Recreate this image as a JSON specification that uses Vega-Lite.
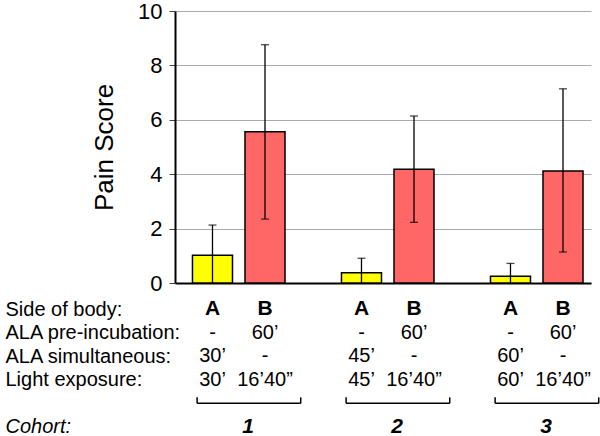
{
  "$schema": "https://vega.github.io/schema/vega-lite/v6.json",
  "padding": {"left": 5, "top": 0, "right": 0, "bottom": 0},
  "background": "white",
  "config": {"view": {"stroke": null}, "font": "Liberation Sans", "concat": {"spacing": 4}},
  "datasets": {
    "bars": [
      {"cohort": "1", "side": "A", "score": 1.02, "lo": 0, "hi": 2.13},
      {"cohort": "1", "side": "B", "score": 5.56, "lo": 2.35, "hi": 8.76},
      {"cohort": "2", "side": "A", "score": 0.38, "lo": 0, "hi": 0.91},
      {"cohort": "2", "side": "B", "score": 4.18, "lo": 2.23, "hi": 6.14},
      {"cohort": "3", "side": "A", "score": 0.25, "lo": 0, "hi": 0.72},
      {"cohort": "3", "side": "B", "score": 4.12, "lo": 1.14, "hi": 7.14}
    ],
    "table": [
      {"row": "Side of body:", "cohort": "1", "side": "A", "label": "A"},
      {"row": "Side of body:", "cohort": "1", "side": "B", "label": "B"},
      {"row": "Side of body:", "cohort": "2", "side": "A", "label": "A"},
      {"row": "Side of body:", "cohort": "2", "side": "B", "label": "B"},
      {"row": "Side of body:", "cohort": "3", "side": "A", "label": "A"},
      {"row": "Side of body:", "cohort": "3", "side": "B", "label": "B"},
      {"row": "ALA pre-incubation:", "cohort": "1", "side": "A", "label": "-"},
      {"row": "ALA pre-incubation:", "cohort": "1", "side": "B", "label": "60’"},
      {"row": "ALA pre-incubation:", "cohort": "2", "side": "A", "label": "-"},
      {"row": "ALA pre-incubation:", "cohort": "2", "side": "B", "label": "60’"},
      {"row": "ALA pre-incubation:", "cohort": "3", "side": "A", "label": "-"},
      {"row": "ALA pre-incubation:", "cohort": "3", "side": "B", "label": "60’"},
      {"row": "ALA simultaneous:", "cohort": "1", "side": "A", "label": "30’"},
      {"row": "ALA simultaneous:", "cohort": "1", "side": "B", "label": "-"},
      {"row": "ALA simultaneous:", "cohort": "2", "side": "A", "label": "45’"},
      {"row": "ALA simultaneous:", "cohort": "2", "side": "B", "label": "-"},
      {"row": "ALA simultaneous:", "cohort": "3", "side": "A", "label": "60’"},
      {"row": "ALA simultaneous:", "cohort": "3", "side": "B", "label": "-"},
      {"row": "Light exposure:", "cohort": "1", "side": "A", "label": "30’"},
      {"row": "Light exposure:", "cohort": "1", "side": "B", "label": "16’40”"},
      {"row": "Light exposure:", "cohort": "2", "side": "A", "label": "45’"},
      {"row": "Light exposure:", "cohort": "2", "side": "B", "label": "16’40”"},
      {"row": "Light exposure:", "cohort": "3", "side": "A", "label": "60’"},
      {"row": "Light exposure:", "cohort": "3", "side": "B", "label": "16’40”"}
    ],
    "groups": [
      {"cohort": "1", "row": "Cohort:", "bracket": " "},
      {"cohort": "2", "row": "Cohort:", "bracket": " "},
      {"cohort": "3", "row": "Cohort:", "bracket": " "}
    ]
  },
  "vconcat": [
    {
      "width": 416,
      "height": 272,
      "data": {"name": "bars"},
      "encoding": {
        "x": {
          "field": "cohort", "type": "nominal",
          "scale": {"paddingInner": 0.379, "paddingOuter": 0.0855, "align": 0.686},
          "axis": {"labels": false, "ticks": false, "title": null, "domainColor": "black", "domainWidth": 2}
        },
        "xOffset": {"field": "side", "type": "nominal", "scale": {"paddingInner": 0.238, "paddingOuter": 0}}
      },
      "layer": [
        {
          "mark": {"type": "bar", "stroke": "black", "strokeWidth": 1.5},
          "encoding": {
            "y": {
              "field": "score", "type": "quantitative",
              "scale": {"domain": [0, 10], "nice": false},
              "axis": {
                "title": "Pain Score", "titleFontSize": 26, "titleFontWeight": "normal", "titleColor": "black",
                "titlePadding": 20, "labelFontSize": 22, "labelColor": "black", "labelPadding": 7,
                "tickSize": 6, "tickColor": "#444", "domainColor": "black", "domainWidth": 2,
                "grid": true, "gridColor": "#AAAAAA", "gridWidth": 1, "values": [0, 2, 4, 6, 8, 10]
              }
            },
            "color": {"field": "side", "type": "nominal", "scale": {"domain": ["A", "B"], "range": ["#FFFF00", "#FF6666"]}, "legend": null}
          }
        },
        {
          "mark": {"type": "rule", "color": "black", "strokeWidth": 1.3},
          "encoding": {"y": {"field": "lo", "type": "quantitative"}, "y2": {"field": "hi"}}
        },
        {
          "mark": {"type": "tick", "color": "black", "thickness": 1.3, "size": 8, "orient": "horizontal"},
          "encoding": {"y": {"field": "hi", "type": "quantitative"}}
        },
        {
          "transform": [{"filter": "datum.lo > 0"}],
          "mark": {"type": "tick", "color": "black", "thickness": 1.3, "size": 8, "orient": "horizontal"},
          "encoding": {"y": {"field": "lo", "type": "quantitative"}}
        }
      ]
    },
    {
      "width": 416,
      "height": 132,
      "layer": [
        {
          "data": {"name": "table"},
          "transform": [{"filter": "datum.row === 'Side of body:'"}],
          "mark": {"type": "text", "fontSize": 21, "fontWeight": "bold", "baseline": "middle", "color": "black"},
          "encoding": {
            "x": {"field": "cohort", "type": "nominal", "scale": {"paddingInner": 0.379, "paddingOuter": 0.0855, "align": 0.686}, "axis": null},
            "xOffset": {"field": "side", "type": "nominal", "scale": {"paddingInner": 0.238, "paddingOuter": 0}},
            "y": {
              "field": "row", "type": "nominal",
              "scale": {"type": "point", "padding": 0.3, "domain": ["Side of body:", "ALA pre-incubation:", "ALA simultaneous:", "Light exposure:", " ", "Cohort:"]},
              "axis": {
                "title": null, "domain": false, "ticks": false, "tickSize": 0, "grid": false,
                "labelAlign": "left", "labelPadding": 170, "labelFontSize": 20, "labelColor": "black", "labelLimit": 260,
                "labelFontStyle": {"condition": {"test": "datum.value === 'Cohort:'", "value": "italic"}, "value": "normal"}
              }
            },
            "text": {"field": "label"}
          }
        },
        {
          "data": {"name": "table"},
          "transform": [{"filter": "datum.row !== 'Side of body:'"}],
          "mark": {"type": "text", "fontSize": 20, "baseline": "middle", "color": "black"},
          "encoding": {
            "x": {"field": "cohort", "type": "nominal", "scale": {"paddingInner": 0.379, "paddingOuter": 0.0855, "align": 0.686}, "axis": null},
            "xOffset": {"field": "side", "type": "nominal", "scale": {"paddingInner": 0.238, "paddingOuter": 0}},
            "y": {"field": "row", "type": "nominal"},
            "text": {"field": "label"}
          }
        },
        {
          "data": {"name": "groups"},
          "mark": {"type": "text", "fontSize": 21, "fontWeight": "bold", "fontStyle": "italic", "baseline": "middle", "color": "black"},
          "encoding": {
            "x": {"field": "cohort", "type": "nominal", "bandPosition": 0.6, "scale": {"paddingInner": 0.379, "paddingOuter": 0.0855, "align": 0.686}, "axis": null},
            "y": {"field": "row", "type": "nominal"},
            "text": {"field": "cohort"}
          }
        },
        {
          "data": {"name": "groups"},
          "mark": {"type": "rule", "color": "black", "strokeWidth": 1.5},
          "encoding": {
            "x": {"field": "cohort", "type": "nominal", "bandPosition": 0.05, "scale": {"paddingInner": 0.379, "paddingOuter": 0.0855, "align": 0.686}, "axis": null},
            "x2": {"field": "cohort", "bandPosition": 1.17},
            "y": {"field": "bracket", "type": "nominal"}
          }
        },
        {
          "data": {"name": "groups"},
          "mark": {"type": "rule", "color": "black", "strokeWidth": 1.5, "y2Offset": -6},
          "encoding": {
            "x": {"field": "cohort", "type": "nominal", "bandPosition": 0.05, "scale": {"paddingInner": 0.379, "paddingOuter": 0.0855, "align": 0.686}, "axis": null},
            "y": {"field": "bracket", "type": "nominal"},
            "y2": {"field": "bracket"}
          }
        },
        {
          "data": {"name": "groups"},
          "mark": {"type": "rule", "color": "black", "strokeWidth": 1.5, "y2Offset": -6},
          "encoding": {
            "x": {"field": "cohort", "type": "nominal", "bandPosition": 1.17, "scale": {"paddingInner": 0.379, "paddingOuter": 0.0855, "align": 0.686}, "axis": null},
            "y": {"field": "bracket", "type": "nominal"},
            "y2": {"field": "bracket"}
          }
        }
      ]
    }
  ]
}
